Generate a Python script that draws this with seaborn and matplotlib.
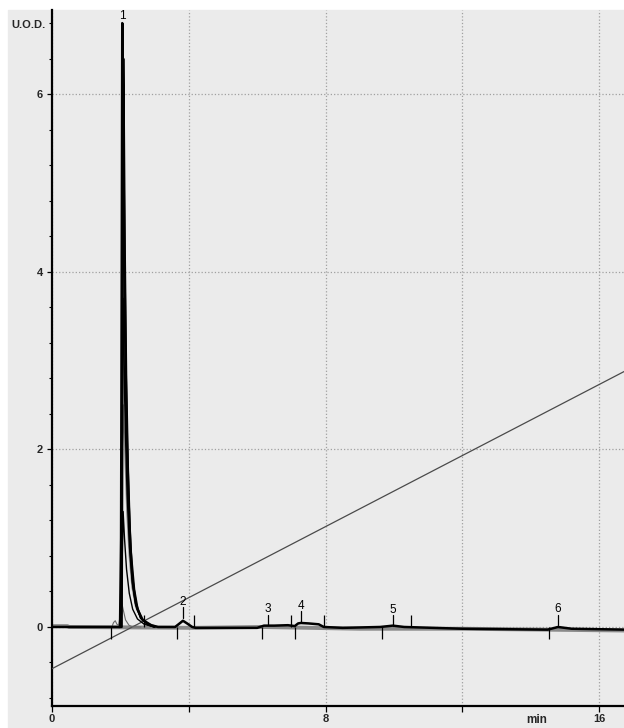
import numpy as np
import pandas as pd
import seaborn as sns
from matplotlib import pyplot as plt
from matplotlib.patches import Rectangle
from matplotlib.ticker import MultipleLocator, FixedLocator

# main trace (tall peak + baseline details)
main_t = [0.0, 0.45, 1.7, 1.99, 2.02, 2.04, 2.055, 2.075, 2.11, 2.15, 2.19, 2.24, 2.3, 2.4, 2.5, 2.65, 2.9, 3.1,
          3.6, 3.7, 3.83, 3.95, 4.1, 4.2, 6.0, 6.2, 6.5, 6.9, 7.1, 7.2, 7.28, 7.5, 7.8, 7.95, 8.5, 9.6, 9.97, 10.3,
          12.0, 14.5, 14.8, 15.2, 16.75]
main_v = [0.0, 0.0, 0.0, 0.0, 1.0, 4.0, 6.8, 6.0, 4.4, 3.0, 2.1, 1.4, 0.85, 0.42, 0.2, 0.08, 0.02, 0.0,
          0.0, 0.03, 0.07, 0.04, 0.0, -0.01, -0.01, 0.015, 0.015, 0.02, 0.01, 0.04, 0.045, 0.04, 0.03, 0.0, -0.01, 0.0, 0.015, 0.0,
          -0.02, -0.03, 0.0, -0.02, -0.03]

# second trace (peak ~6.4, slightly later)
tr2_t = [1.95, 2.04, 2.065, 2.085, 2.1, 2.13, 2.17, 2.22, 2.28, 2.35, 2.45, 2.6, 2.8, 3.0]
tr2_v = [0.0, 0.0, 3.0, 6.4, 5.8, 4.2, 2.8, 1.8, 1.05, 0.55, 0.27, 0.1, 0.03, 0.0]

# third trace (peak ~3.7)
tr3_t = [1.9, 2.0, 2.035, 2.05, 2.075, 2.1, 2.15, 2.2, 2.27, 2.35, 2.45, 2.6, 2.8, 3.0]
tr3_v = [0.0, 0.0, 1.0, 3.0, 3.7, 3.1, 2.2, 1.5, 0.9, 0.5, 0.25, 0.1, 0.03, 0.0]

# fourth trace (grey, ~2.5)
tr4_t = [1.9, 2.01, 2.04, 2.06, 2.09, 2.13, 2.19, 2.26, 2.34, 2.45, 2.6, 2.8, 3.1]
tr4_v = [0.0, 0.0, 0.9, 2.0, 2.5, 2.0, 1.3, 0.8, 0.45, 0.22, 0.1, 0.04, 0.0]

# fifth trace (~1.3)
tr5_t = [1.9, 2.02, 2.05, 2.08, 2.12, 2.18, 2.26, 2.36, 2.5, 2.7, 3.0]
tr5_v = [0.0, 0.0, 0.7, 1.3, 1.0, 0.65, 0.38, 0.2, 0.09, 0.03, 0.0]

# small trace (~0.29) with shoulder at 1.85
tr6_t = [1.6, 1.75, 1.8, 1.85, 1.9, 1.95, 1.99, 2.03, 2.08, 2.15, 2.25, 2.35, 2.6]
tr6_v = [0.0, 0.0, 0.05, 0.07, 0.03, 0.02, 0.12, 0.29, 0.2, 0.08, 0.02, 0.0, 0.0]

# grey baseline trace
grey_t = [0.0, 0.45, 0.5, 4.1, 6.1, 9.0, 12.0, 16.75]
grey_v = [0.01, 0.01, 0.0, -0.01, 0.0, -0.02, -0.02, -0.04]

# gradient line
grad_t = [0.0, 16.75]
grad_v = [-0.47, 2.88]

# peak labels
peak_names = ['1', '2', '3', '4', '5', '6']
peak_times = [2.06, 3.83, 6.32, 7.28, 9.97, 14.8]
label_y = [6.88, 0.28, 0.20, 0.24, 0.19, 0.20]

# integration markers
start_times = [1.72, 3.66, 6.14, 7.10, 9.65, 14.53]
end_times = [2.69, 4.15, 6.99, 7.95, 10.5]

sns.set_theme(style='white')
plt.rcParams['font.family'] = ['Liberation Sans', 'DejaVu Sans']

bg = '#ebebeb'
fig = plt.figure(figsize=(6.24, 7.28), dpi=100)
fig.patch.set_facecolor('white')
fig.patches.append(Rectangle((8 / 624, 0), 1, 1 - 10 / 728, transform=fig.transFigure,
                             color=bg, zorder=-5))
ax = fig.add_axes([52 / 624, 22 / 728, 572 / 624, 696 / 728])
ax.set_facecolor(bg)

def trace(t, v, color, lw, z):
    df = pd.DataFrame({'t': t, 'v': v})
    sns.lineplot(data=df, x='t', y='v', ax=ax, color=color, lw=lw, sort=False,
                 estimator=None, zorder=z)

trace(grey_t, grey_v, '#8a8a8a', 2.8, 2)
trace(grad_t, grad_v, '#4a4a4a', 0.9, 3)
trace(tr4_t, tr4_v, '#8a8a8a', 1.0, 3)
trace(tr6_t, tr6_v, '#6a6a6a', 0.8, 4)
trace(tr5_t, tr5_v, 'black', 1.0, 4)
trace(tr3_t, tr3_v, 'black', 1.2, 5)
trace(tr2_t, tr2_v, 'black', 1.6, 5)
trace(main_t, main_v, 'black', 1.8, 6)

ax.vlines(start_times, -0.13, 0, color='black', lw=0.9, zorder=7)
ax.vlines(end_times, 0, 0.14, color='black', lw=0.9, zorder=7)

for name, t, y in zip(peak_names, peak_times, label_y):
    ax.text(t, y, name, ha='center', va='center', fontsize=8.5, color='black', zorder=8)
    if name != '1':
        ax.plot([t, t], [y - 0.06, y - 0.18], color='black', lw=0.9, zorder=8)

ax.set_xlim(0, 16.73)
ax.set_ylim(-0.89, 6.948)
ax.set_xlabel('')
ax.set_ylabel('')

ax.xaxis.set_major_locator(FixedLocator([0, 8, 16]))
ax.xaxis.set_minor_locator(FixedLocator([4, 12]))
ax.yaxis.set_major_locator(FixedLocator([0, 2, 4, 6]))
ax.yaxis.set_minor_locator(MultipleLocator(0.4))

ax.tick_params(axis='x', which='both', direction='out', length=4.5, width=0.9, color='black',
               pad=1.5, labelsize=8, bottom=True)
ax.tick_params(axis='y', which='major', direction='out', length=3.5, width=0.9, color='black',
               pad=3, labelsize=8, left=True)
ax.tick_params(axis='y', which='minor', direction='out', length=2.5, width=0.8, color='black', left=True)
for lab in ax.get_xticklabels() + ax.get_yticklabels():
    lab.set_fontweight('bold')

ax.xaxis.grid(True, which='both', linestyle=':', color='#a0a0a0', lw=0.9)
ax.yaxis.grid(True, which='major', linestyle=':', color='#a0a0a0', lw=0.9)
ax.set_axisbelow(True)

for side in ['top', 'right']:
    ax.spines[side].set_visible(False)
for side in ['left', 'bottom']:
    ax.spines[side].set_color('black')
    ax.spines[side].set_linewidth(1.6)

fig.text(11 / 624, 1 - 25 / 728, 'U.O.D.', ha='left', va='center', fontsize=8, fontweight='bold')
fig.text(537 / 624, 1 - 720 / 728, 'min', ha='center', va='center', fontsize=8.5, fontweight='bold')

fig.savefig('out.png', dpi=100, facecolor=fig.get_facecolor())
